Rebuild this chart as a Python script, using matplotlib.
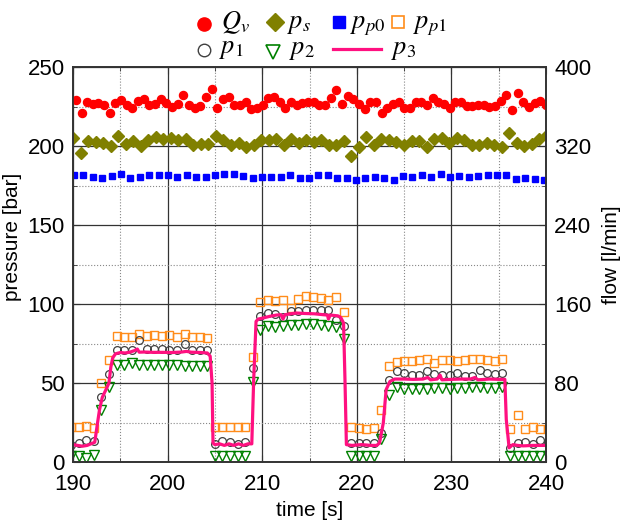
import numpy as np
import matplotlib
matplotlib.use("Agg")
import matplotlib.pyplot as plt
from matplotlib.lines import Line2D
from matplotlib.ticker import MultipleLocator

plt.rcParams['font.family'] = ['Liberation Sans', 'DejaVu Sans']
plt.rcParams['mathtext.fontset'] = 'stix'

# ---- data ----
# flow Q_v [l/min], right axis
t_qv = np.linspace(190.3, 240.0, 84)
qv = [366.6, 353.7, 364.9, 362.5, 363.9, 361.5, 353.1, 363.9, 366.6, 361.5,
      358.1, 365.9, 367.2, 361.5, 362.2, 367.2, 363.9, 359.8, 362.2, 371.6,
      361.5, 358.1, 360.5, 369.9, 377.4, 358.8, 367.2, 369.9, 361.5, 361.5,
      364.9, 357.1, 358.1, 361.5, 368.3, 369.9, 364.9, 358.1, 364.9, 361.5,
      363.9, 364.9, 364.9, 361.5, 361.5, 368.3, 376.7, 362.2, 370.6, 367.2,
      362.2, 357.1, 364.9, 364.9, 353.7, 358.8, 362.5, 364.9, 358.1, 358.1,
      364.9, 364.9, 361.5, 368.3, 364.9, 362.2, 358.1, 364.9, 364.9, 360.5,
      360.5, 361.5, 361.5, 359.8, 360.5, 365.9, 371.6, 356.4, 373.3, 364.9,
      359.8, 363.2, 365.9, 361.5]

# supply pressure p_s [bar]
t_ps = np.linspace(190.0, 240.1, 64)
ps = [204.9, 195.4, 203.4, 202.7, 201.7, 200.0, 206.3, 201.3, 203.4, 200.0,
      203.8, 205.5, 204.2, 204.9, 203.8, 204.2, 200.6, 201.3, 201.3, 206.3,
      203.8, 200.6, 201.7, 199.2, 200.6, 203.8, 203.8, 204.2, 200.6, 204.6,
      202.1, 203.8, 202.7, 203.8, 200.6, 200.6, 203.4, 193.7, 199.2, 205.9,
      200.6, 204.2, 203.8, 202.7, 200.6, 203.4, 203.4, 199.2, 204.2, 204.9,
      202.1, 204.9, 203.8, 200.6, 200.6, 202.1, 200.6, 199.2, 208.4, 202.1,
      200.0, 201.3, 204.2, 207.0]

# pump pressure p_p0 [bar]
t_pp0 = np.linspace(190.1, 239.8, 51)
pp0 = [181.6, 181.6, 180.6, 179.5, 181.0, 182.1, 179.5, 180.6, 181.6, 181.6,
       181.6, 180.6, 181.6, 180.2, 180.6, 181.6, 182.1, 182.1, 181.2, 179.5,
       180.6, 180.6, 180.6, 181.6, 179.5, 180.0, 181.6, 181.6, 180.0, 179.5,
       178.5, 179.5, 180.6, 179.5, 178.5, 181.0, 180.2, 181.4, 180.2, 182.1,
       180.2, 180.8, 180.6, 180.8, 181.4, 181.4, 181.4, 179.1, 179.7, 179.1,
       178.7]

# p_p1, p_1, p_2 [bar], common sampling
t_low = 189.8 + 0.8 * np.arange(64)
pp1 = [22.0, 22.0, 22.6, 21.3, 50.0, 64.8, 80.0, 79.1, 79.1, 81.2,
       80.0, 80.6, 79.5, 80.6, 79.1, 81.2, 79.1, 79.1, 78.5, 21.9,
       21.9, 21.9, 21.9, 21.9, 66.5, 101.0, 102.7, 102.1, 102.7, 97.3,
       103.4, 104.9, 104.4, 103.8, 102.7, 104.4, 94.7, 21.9, 21.5, 21.1,
       21.5, 33.1, 61.0, 63.5, 64.1, 64.1, 64.3, 65.2, 62.7, 64.8,
       64.3, 63.7, 64.3, 65.2, 65.2, 64.3, 63.7, 65.2, 21.1, 30.0,
       21.1, 21.9, 21.1, 21.1]
p1 = [11.0, 12.0, 14.1, 13.1, 41.1, 55.9, 71.1, 70.7, 71.1, 77.4,
      71.7, 71.7, 71.7, 71.1, 71.1, 74.9, 71.1, 70.7, 70.7, 11.6,
      13.1, 12.4, 11.6, 12.4, 59.5, 92.2, 94.3, 93.9, 91.8, 95.4,
      95.4, 96.4, 96.0, 96.0, 96.0, 90.1, 86.3, 12.0, 12.0, 12.0,
      12.0, 18.4, 51.7, 57.4, 56.3, 55.3, 55.3, 57.4, 55.7, 55.3,
      55.3, 56.3, 54.6, 54.2, 58.0, 56.3, 55.9, 56.3, 8.9, 12.0,
      12.4, 11.6, 13.7, 12.4]
p2 = [4.0, 3.6, 2.5, 4.6, 32.7, 47.5, 61.6, 61.6, 62.7, 61.6,
      61.6, 61.6, 61.6, 61.6, 61.6, 61.0, 61.0, 61.0, 61.0, 4.0,
      3.6, 4.0, 3.6, 4.0, 50.4, 83.8, 85.9, 85.4, 85.9, 86.5,
      86.9, 87.6, 87.6, 86.9, 86.3, 85.4, 77.8, 4.0, 4.0, 4.0,
      4.0, 14.6, 42.6, 47.5, 46.2, 46.2, 46.2, 46.2, 46.8, 46.8,
      46.2, 46.8, 46.8, 47.5, 47.5, 46.8, 46.8, 47.5, 3.6, 3.6,
      3.6, 3.6, 3.6, 3.6]

# p_3 [bar], continuous trace
t_p3 = [190.0, 190.5, 191.0, 191.5, 191.9, 192.3, 192.6, 192.8, 193.1, 193.5,
        193.8, 194.0, 194.2, 194.5, 195.0, 195.5, 196.0, 196.5, 196.8, 197.0,
        197.5, 198.5, 199.5, 200.5, 201.5, 202.0, 202.5, 203.5, 204.2, 204.5,
        204.7, 204.8, 205.0, 205.5, 206.0, 206.5, 207.0, 207.5, 208.0, 208.5,
        208.9, 209.1, 209.35, 209.6, 210.0, 210.8, 211.5, 212.0, 212.2, 212.4,
        213.0, 213.6, 214.5, 215.5, 216.5, 216.9, 217.0, 217.2, 218.0, 218.3,
        218.6, 218.75, 218.9, 219.5, 220.5, 221.5, 222.1, 222.4, 222.8, 223.1,
        223.5, 224.0, 225.0, 226.0, 227.0, 227.5, 227.8, 228.5, 228.8, 229.0,
        230.0, 231.0, 232.0, 232.5, 232.8, 234.0, 235.0, 235.65, 235.8, 236.1,
        236.5, 237.0, 237.6, 238.6, 240.0]
p3 = [11.0, 10.5, 10.0, 10.5, 11.5, 12.5, 25.0, 33.0, 41.0, 46.0,
      50.0, 60.0, 66.0, 68.5, 69.3, 69.0, 69.5, 70.5, 71.5, 69.5,
      69.6, 69.4, 69.4, 69.3, 69.6, 70.0, 69.5, 69.3, 69.0, 67.0,
      50.0, 12.0, 11.0, 11.5, 10.5, 11.5, 10.5, 11.5, 10.5, 11.5,
      11.5, 52.0, 89.0, 90.5, 91.0, 92.2, 93.0, 93.2, 90.5, 93.2,
      93.8, 94.3, 94.0, 93.8, 93.2, 93.0, 90.5, 93.0, 92.5, 91.5,
      88.0, 52.0, 11.0, 10.5, 11.0, 10.5, 10.5, 12.0, 24.7, 45.8,
      51.0, 52.5, 52.5, 52.3, 52.5, 53.5, 52.0, 52.5, 55.0, 52.0,
      52.3, 52.5, 52.5, 53.5, 52.0, 52.5, 52.3, 52.3, 27.0, 9.0,
      11.0, 10.5, 10.2, 10.5, 10.5]

# ---- figure ----
fig = plt.figure(figsize=(6.21, 5.23), dpi=100)
ax = fig.add_axes([73/621, 1 - 462/523, (546 - 73)/621, (462 - 67)/523])
ax2 = ax.twinx()

c_qv, c_ps, c_pp0, c_pp1 = '#ff0000', '#808000', '#0000ff', '#ff8c1a'
c_p1, c_p2, c_p3 = '#404040', '#008000', '#ff1080'

ax.plot(t_ps, ps, 'D', ms=6, color=c_ps, mec=c_ps)
ax.plot(t_pp0, pp0, 's', ms=5, color=c_pp0, mec=c_pp0)
ax.plot(t_low, pp1, 's', ms=5.2, mfc='none', mec=c_pp1, mew=1.0)
ax.plot(t_low, p1, 'o', ms=5.6, mfc='none', mec=c_p1, mew=0.9)
ax.plot(t_low, p2, 'v', ms=6.5, mfc='none', mec=c_p2, mew=1.0)
ax.plot(t_p3, p3, '-', lw=2.3, color=c_p3)
ax2.plot(t_qv, qv, 'o', ms=5.8, color=c_qv, mec=c_qv)

ax.set_xlim(190, 240)
ax.set_ylim(0, 250)
ax2.set_ylim(0, 400)
ax.xaxis.set_major_locator(MultipleLocator(10))
ax.xaxis.set_minor_locator(MultipleLocator(5))
ax.yaxis.set_major_locator(MultipleLocator(50))
ax.yaxis.set_minor_locator(MultipleLocator(25))
ax2.yaxis.set_major_locator(MultipleLocator(80))
ax2.yaxis.set_minor_locator(MultipleLocator(40))

ax.grid(which='major', color='#333333', lw=0.9, ls='-')
ax.grid(which='minor', color='#888888', lw=0.8, ls=':')
ax.set_axisbelow(True)

ax.tick_params(which='both', direction='in', top=True, right=False,
               labelsize=16, pad=6, color='#333333')
ax.tick_params(axis='x', pad=9)
ax.tick_params(which='major', length=5)
ax.tick_params(which='minor', length=3)
ax2.tick_params(which='both', direction='in', labelsize=16, pad=6, color='#333333')
ax2.tick_params(which='major', length=5)
ax2.tick_params(which='minor', length=3)
for a in (ax, ax2):
    for s in a.spines.values():
        s.set_color('#333333')
        s.set_linewidth(1.2)

ax.set_xlabel('time [s]', fontsize=15)
ax.set_ylabel('pressure [bar]', fontsize=15)
ax2.set_ylabel('flow [l/min]', fontsize=15)
ax.xaxis.set_label_coords(0.5, -0.1)
ax.yaxis.set_label_coords(-0.108, 0.57)
ax2.yaxis.set_label_coords(1.118, 0.524)

# ---- legend, two rows above the plot ----
W, H = 621.0, 523.0
keys = [
    (dict(marker='o', ms=9.5, color=c_qv, mec=c_qv), 204, 24, r'$Q_v$', 221, 29),
    (dict(marker='D', ms=9, color=c_ps, mec=c_ps), 275, 22, r'$p_s$', 287, 28),
    (dict(marker='s', ms=8.5, color=c_pp0, mec=c_pp0), 339, 22, r'$p_{p0}$', 350, 28),
    (dict(marker='s', ms=8, mfc='none', mec=c_pp1, mew=1.2), 398, 22, r'$p_{p1}$', 413, 28),
    (dict(marker='o', ms=9, mfc='none', mec=c_p1, mew=1.0), 204, 50, r'$p_1$', 219, 53),
    (dict(marker='v', ms=10, mfc='none', mec=c_p2, mew=1.2), 273, 52, r'$p_2$', 289, 54),
]
for style, mx, my, lab, tx, ty in keys:
    fig.add_artist(Line2D([mx / W], [1 - my / H], transform=fig.transFigure,
                          ls='none', **style))
    fig.text(tx / W, 1 - ty / H, lab, fontsize=19, va='baseline', ha='left')
fig.add_artist(Line2D([333 / W, 381 / W], [1 - 49 / H, 1 - 49 / H],
                      transform=fig.transFigure, color=c_p3, lw=2.3))
fig.text(391 / W, 1 - 54 / H, r'$p_3$', fontsize=19, va='baseline', ha='left')

fig.savefig('out.png', dpi=100)
